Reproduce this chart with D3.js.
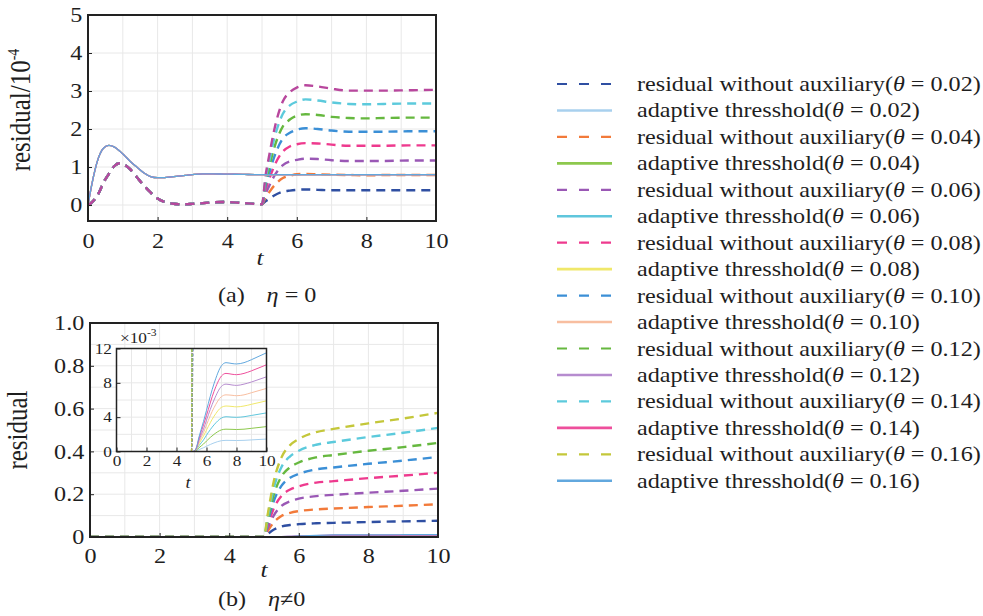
<!DOCTYPE html>
<html>
<head>
<meta charset="utf-8">
<script src="https://cdn.jsdelivr.net/npm/d3@7"></script>
<style>
  body { margin: 0; background: #fff; }
  svg text { font-family: "Liberation Serif", "Times New Roman", serif; fill: #1e1e1e; }
  .grid line { stroke: #e8e8e8; stroke-width: 1; }
</style>
</head>
<body>
<svg width="983" height="616"></svg>
<script>
const svg = d3.select('svg');

// the lettering of the original figure is stretched sideways a bit
const SX = 1.15;

const thetas = ['0.02', '0.04', '0.06', '0.08', '0.10', '0.12', '0.14', '0.16'];
const residualColors = ['#2f4fa2', '#f27a3a', '#9a58b5', '#ee3a8e', '#3b8fd6', '#66b83f', '#5ccadc', '#c4c73a'];
const thresholdColors = ['#a8d0ee', '#8dc84d', '#5fc6dc', '#f0e86a', '#f8bea0', '#b68ccf', '#ee4f9c', '#62a8de'];
// in panel (a) the top residual shows up magenta
const topResidualColors = residualColors.slice(0, 7).concat(['#b8479d']);

const xTicks = [0, 2, 4, 6, 8, 10];
const topYTicks = [0, 1, 2, 3, 4, 5];
const bottomYTicks = [0, 0.2, 0.4, 0.6, 0.8, 1.0];
const insetYTicks = [0, 4, 8, 12];

// panel (a): eta = 0, values in units of 1e-4
const topEarlyTime = [0, 0.1, 0.2, 0.3, 0.45, 0.6, 0.75, 0.9, 1.05, 1.2, 1.4, 1.6, 1.8, 2.0, 2.2, 2.4, 2.6, 2.8, 3.0, 3.3, 3.6, 3.9, 4.2, 4.5, 4.8, 5.0];
const topResidualEarly = [0, 0.06, 0.16, 0.3, 0.6, 0.82, 1.02, 1.1, 1.06, 0.95, 0.74, 0.52, 0.33, 0.17, 0.08, 0.04, 0.02, 0.02, 0.03, 0.05, 0.07, 0.08, 0.07, 0.05, 0.03, 0.02];
const topThresholdEarly = [0, 0.5, 0.92, 1.24, 1.5, 1.57, 1.53, 1.43, 1.3, 1.16, 1.0, 0.85, 0.75, 0.72, 0.72, 0.74, 0.76, 0.78, 0.8, 0.82, 0.82, 0.815, 0.81, 0.805, 0.8, 0.8];
const topLateTime = [5.1, 5.2, 5.35, 5.6, 5.8, 6.0, 6.25, 6.6, 7.0, 7.5, 8.0, 8.5, 9.2, 10];
const topResidualLate = [
  [0.10, 0.16, 0.25, 0.35, 0.38, 0.40, 0.41, 0.40, 0.39, 0.39, 0.39, 0.39, 0.39, 0.39],
  [0.20, 0.33, 0.51, 0.71, 0.77, 0.81, 0.82, 0.81, 0.80, 0.79, 0.78, 0.79, 0.79, 0.79],
  [0.29, 0.49, 0.76, 1.05, 1.15, 1.19, 1.22, 1.21, 1.18, 1.16, 1.16, 1.16, 1.17, 1.17],
  [0.39, 0.66, 1.02, 1.41, 1.54, 1.60, 1.63, 1.62, 1.59, 1.56, 1.56, 1.56, 1.57, 1.57],
  [0.49, 0.81, 1.26, 1.75, 1.90, 1.98, 2.02, 2.00, 1.96, 1.93, 1.93, 1.93, 1.94, 1.94],
  [0.58, 0.97, 1.50, 2.07, 2.25, 2.35, 2.39, 2.37, 2.32, 2.29, 2.28, 2.29, 2.30, 2.30],
  [0.67, 1.12, 1.74, 2.40, 2.62, 2.72, 2.78, 2.75, 2.70, 2.66, 2.65, 2.66, 2.67, 2.67],
  [0.76, 1.27, 1.97, 2.73, 2.97, 3.09, 3.15, 3.12, 3.06, 3.01, 3.01, 3.01, 3.02, 3.03]
];
const topThresholdLateTime = [6, 8, 10];
const topThresholdLate = [0.8, 0.8, 0.8];

// panel (b): eta != 0
const bottomTime = [0, 5.0, 5.1, 5.3, 5.5, 5.75, 6.0, 6.5, 7.0, 8.0, 9.0, 10];
const bottomResidual = [
  [0, 0, 0.013, 0.036, 0.049, 0.056, 0.060, 0.064, 0.066, 0.070, 0.073, 0.076],
  [0, 0, 0.026, 0.072, 0.098, 0.113, 0.121, 0.129, 0.133, 0.140, 0.146, 0.153],
  [0, 0, 0.038, 0.106, 0.145, 0.167, 0.179, 0.191, 0.197, 0.207, 0.216, 0.226],
  [0, 0, 0.051, 0.141, 0.192, 0.222, 0.237, 0.254, 0.261, 0.275, 0.287, 0.300],
  [0, 0, 0.064, 0.176, 0.239, 0.277, 0.295, 0.316, 0.325, 0.342, 0.357, 0.374],
  [0, 0, 0.075, 0.207, 0.282, 0.326, 0.348, 0.372, 0.383, 0.403, 0.420, 0.440],
  [0, 0, 0.087, 0.240, 0.326, 0.377, 0.403, 0.431, 0.444, 0.467, 0.487, 0.510],
  [0, 0, 0.099, 0.273, 0.371, 0.429, 0.458, 0.490, 0.505, 0.531, 0.554, 0.580]
];
// adaptive thresholds of panel (b), in units of 1e-3 (inset)
const insetTime = [0, 5.1, 5.3, 5.5, 5.8, 6.0, 6.5, 7.0, 7.3, 7.7, 8.0, 8.5, 9.0, 9.5, 10];
const insetThreshold = [
  [0, 0, 0.05, 0.22, 0.44, 0.61, 1.0, 1.26, 1.3, 1.29, 1.28, 1.3, 1.35, 1.4, 1.45],
  [0, 0, 0.09, 0.44, 0.87, 1.22, 2.0, 2.52, 2.6, 2.58, 2.56, 2.6, 2.7, 2.8, 2.9],
  [0, 0, 0.14, 0.68, 1.35, 1.9, 3.1, 3.9, 4.05, 4.0, 3.98, 4.05, 4.2, 4.35, 4.5],
  [0, 0, 0.18, 0.9, 1.8, 2.5, 4.1, 5.15, 5.3, 5.25, 5.2, 5.3, 5.5, 5.7, 5.9],
  [0, 0, 0.22, 1.1, 2.2, 3.1, 5.1, 6.4, 6.6, 6.55, 6.5, 6.6, 6.85, 7.1, 7.35],
  [0, 0, 0.26, 1.3, 2.6, 3.65, 6.0, 7.6, 7.85, 7.75, 7.7, 7.85, 8.1, 8.4, 8.7],
  [0, 0, 0.3, 1.5, 3.1, 4.2, 7.0, 8.8, 9.1, 9.0, 8.95, 9.1, 9.4, 9.75, 10.1],
  [0, 0, 0.35, 1.7, 3.5, 4.8, 7.9, 10.0, 10.35, 10.25, 10.2, 10.35, 10.7, 11.1, 11.5]
];

const toPoints = (ts, vs, k = 1) => ts.map((t, i) => ({ t, v: vs[i] * k }));

//Make a framed plot area with its scales, grid and clip
const makePanel = (cfg) => {
  const { id, x0, x1, y0, y1, yDomain, xGrid, yGrid } = cfg;
  const xScale = d3.scaleLinear().domain([0, 10]).range([x0, x1]);
  const yScale = d3.scaleLinear().domain(yDomain).range([y1, y0]);
  const g = svg.append('g');

  g.append('rect')
    .attr('x', x0).attr('y', y0)
    .attr('width', x1 - x0).attr('height', y1 - y0)
    .attr('fill', '#fff');

  const grid = g.append('g').attr('class', 'grid');
  grid.selectAll('.gx').data(xGrid).join('line')
    .attr('x1', d => xScale(d)).attr('x2', d => xScale(d))
    .attr('y1', y0).attr('y2', y1);
  grid.selectAll('.gy').data(yGrid).join('line')
    .attr('x1', x0).attr('x2', x1)
    .attr('y1', d => yScale(d)).attr('y2', d => yScale(d));

  svg.append('clipPath').attr('id', id)
    .append('rect')
    .attr('x', x0).attr('y', y0)
    .attr('width', x1 - x0).attr('height', y1 - y0);

  const plot = g.append('g').attr('clip-path', `url(#${id})`);
  return { xScale, yScale, g, plot, x0, x1, y0, y1 };
};

const lineFor = p => d3.line()
  .x(d => p.xScale(d.t))
  .y(d => p.yScale(d.v))
  .curve(d3.curveMonotoneX);

const drawSeries = (p, points, color, width, dash) => {
  p.plot.append('path')
    .attr('d', lineFor(p)(points))
    .attr('fill', 'none')
    .attr('stroke', color)
    .attr('stroke-width', width)
    .attr('stroke-dasharray', dash || null);
};

//Axes with inward ticks, then the box on top
const addAxes = (p, opts) => {
  const { fontSize, xPad, yPad, yTicks, yFormat, frameWidth } = opts;

  const xAxis = d3.axisBottom(p.xScale)
    .tickValues(xTicks)
    .tickFormat(d3.format('d'))
    .tickSize(-4)
    .tickPadding(xPad);
  const xAxisG = p.g.append('g')
    .attr('transform', `translate(0,${p.y1})`)
    .call(xAxis);
  xAxisG.select('.domain').remove();

  const yAxis = d3.axisLeft(p.yScale)
    .tickValues(yTicks)
    .tickFormat(yFormat)
    .tickSize(-4)
    .tickPadding(yPad);
  const yAxisG = p.g.append('g')
    .attr('transform', `translate(${p.x0},0)`)
    .call(yAxis);
  yAxisG.select('.domain').remove();

  [xAxisG, yAxisG].forEach(a => {
    a.attr('font-family', null).attr('font-size', null);
    a.selectAll('.tick line').attr('stroke', '#222');
    a.selectAll('text')
      .style('font-size', `${fontSize}px`)
      .attr('fill', '#1e1e1e')
      .attr('transform', `scale(${SX},1)`);
  });

  p.g.append('rect')
    .attr('x', p.x0).attr('y', p.y0)
    .attr('width', p.x1 - p.x0).attr('height', p.y1 - p.y0)
    .attr('fill', 'none')
    .attr('stroke', '#222')
    .attr('stroke-width', frameWidth);
};

const addText = (x, y, size, parts, anchor = 'start', rotate = false) => {
  const tr = rotate
    ? `translate(${x},${y}) rotate(-90) scale(1,${SX})`
    : `translate(${x},${y}) scale(${SX},1)`;
  const t = svg.append('text')
    .attr('transform', tr)
    .attr('text-anchor', anchor)
    .style('font-size', `${size}px`);
  parts.forEach(pt => {
    t.append('tspan')
      .attr('dx', pt.dx || null)
      .attr('dy', pt.dy || null)
      .style('font-style', pt.italic ? 'italic' : null)
      .style('font-size', pt.size ? `${pt.size}px` : null)
      .text(pt.s);
  });
  return t;
};

//Panel (a)
const renderTop = () => {
  const p = makePanel({
    id: 'clipTop', x0: 88, x1: 436, y0: 15, y1: 221,
    yDomain: [-0.42, 5],
    xGrid: d3.range(1, 10), yGrid: [0, 1, 2, 3, 4]
  });

  thetas.forEach((th, i) => {
    const pts = toPoints(topEarlyTime, topResidualEarly)
      .concat(toPoints(topLateTime, topResidualLate[i]));
    drawSeries(p, pts, topResidualColors[i], 2.4, '9,6');
  });
  thetas.forEach((th, i) => {
    const pts = toPoints(topEarlyTime, topThresholdEarly)
      .concat(toPoints(topThresholdLateTime, topThresholdLate));
    drawSeries(p, pts, thresholdColors[i], 1.3);
  });

  addAxes(p, {
    fontSize: 21, xPad: 12, yPad: 5, yTicks: topYTicks,
    yFormat: d3.format('d'), frameWidth: 2
  });

  addText(30, 110, 25, [{ s: 'residual/10' }, { s: '-4', dy: -10, size: 14 }], 'middle', true);
  addText(260, 265, 22, [{ s: 't', italic: true }], 'middle');
  addText(218, 302, 21, [{ s: '(a)' }, { s: 'η', italic: true, dx: 19 }, { s: ' = 0' }]);
};

//Panel (b) with the zoomed inset
const renderBottom = () => {
  const p = makePanel({
    id: 'clipBottom', x0: 90, x1: 438, y0: 323, y1: 537,
    yDomain: [0, 1],
    xGrid: d3.range(1, 10), yGrid: d3.range(1, 10).map(d => d / 10)
  });

  thetas.forEach((th, i) => {
    drawSeries(p, toPoints(insetTime, insetThreshold[i], 1e-3), thresholdColors[i], 1.2);
  });
  thetas.forEach((th, i) => {
    drawSeries(p, toPoints(bottomTime, bottomResidual[i]), residualColors[i], 2.4, '9,6');
  });

  addAxes(p, {
    fontSize: 21, xPad: 11, yPad: 5, yTicks: bottomYTicks,
    yFormat: d => d === 0 ? '0' : d.toFixed(1), frameWidth: 2
  });

  addText(27, 430, 25, [{ s: 'residual' }], 'middle', true);
  addText(264, 577, 22, [{ s: 't', italic: true }], 'middle');
  addText(218, 606, 21, [{ s: '(b)' }, { s: 'η', italic: true, dx: 19 }, { s: '≠0' }]);

  // inset, values in units of 1e-3
  const q = makePanel({
    id: 'clipInset', x0: 116.5, x1: 266.5, y0: 348.5, y1: 451.5,
    yDomain: [0, 12],
    xGrid: d3.range(1, 10), yGrid: [2, 4, 6, 8, 10]
  });

  thetas.forEach((th, i) => {
    drawSeries(q, toPoints(insetTime, insetThreshold[i]), thresholdColors[i], 1);
  });
  thetas.forEach((th, i) => {
    drawSeries(q, toPoints(bottomTime, bottomResidual[i], 1000), residualColors[i], 1.2, '3,2');
  });

  addAxes(q, {
    fontSize: 15, xPad: 4, yPad: 4, yTicks: insetYTicks,
    yFormat: d3.format('d'), frameWidth: 1.5
  });

  addText(120, 343, 15, [{ s: '×10' }, { s: '-3', dy: -7, size: 10 }]);
  addText(188, 488, 16, [{ s: 't', italic: true }], 'middle');
};

//Legend, one dashed residual and one solid threshold per theta
const renderLegend = () => {
  const rows = thetas.flatMap((th, i) => [
    { label: 'residual without auxiliary(', theta: th, color: residualColors[i], dash: '10,12', width: 2.2 },
    { label: 'adaptive thresshold(', theta: th, color: thresholdColors[i], dash: null, width: 2.6 }
  ]);

  const rowY = i => 84 + 26.45 * i;

  svg.append('g').selectAll('line').data(rows).join('line')
    .attr('x1', 557).attr('x2', 612)
    .attr('y1', (d, i) => rowY(i)).attr('y2', (d, i) => rowY(i))
    .attr('stroke', d => d.color)
    .attr('stroke-width', d => d.width)
    .attr('stroke-dasharray', d => d.dash);

  rows.forEach((d, i) => {
    addText(637, rowY(i) + 7, 21, [
      { s: d.label },
      { s: 'θ', italic: true },
      { s: ` = ${d.theta})` }
    ]);
  });
};

renderTop();
renderBottom();
renderLegend();
</script>
</body>
</html>
